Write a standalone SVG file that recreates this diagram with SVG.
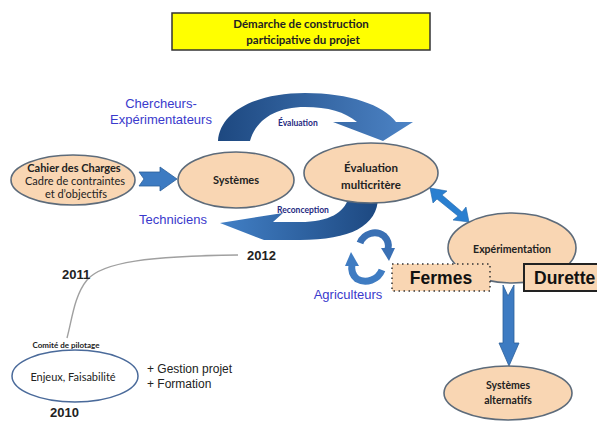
<svg xmlns="http://www.w3.org/2000/svg" width="597" height="436" viewBox="0 0 597 436">
<defs>
<linearGradient id="gTop" x1="0" y1="0" x2="1" y2="0">
<stop offset="0" stop-color="#1d4880"/><stop offset="1" stop-color="#4d84c6"/>
</linearGradient>
<linearGradient id="gBot" x1="1" y1="0" x2="0" y2="0">
<stop offset="0" stop-color="#1d4880"/><stop offset="1" stop-color="#4280c6"/>
</linearGradient>
</defs>
<style>
.node{fill:#f9d6b3;stroke:#5d6b7a;stroke-width:1.6}
.t{font-family:Lato,"Open Sans",sans-serif;fill:#222;text-anchor:middle}
.b{font-weight:bold}
.blue{font-family:"Liberation Sans",Arial,sans-serif;font-size:13px;fill:#3a3acc;text-anchor:middle}
.lbl{font-family:Lato,sans-serif;font-size:8.5px;font-weight:bold;fill:#1f2a80}
.yr{font-family:"Liberation Sans",Arial,sans-serif;font-size:13px;font-weight:bold;fill:#222}
.big{font-family:"Liberation Sans",Arial,sans-serif;font-size:17.5px;font-weight:bold;fill:#111}
.arr{fill:#3d7bc2;stroke:#2c5f9a;stroke-width:0.8}
</style>
<rect width="597" height="436" fill="#fff"/>

<g id="title">
<rect x="172" y="13" width="258" height="37" fill="#ffff00" stroke="#333" stroke-width="1.5"/>
<text class="t b" x="301" y="28" font-size="11.5">Démarche de construction</text>
<text class="t b" x="303" y="44" font-size="11.5">participative du projet</text>
</g>

<g id="connectors">
<path d="M218,141 C220,112 255,93 305,93 C350,93 383,105 396,122 L413,122 L383,141 L333,122 L357,122 C345,112 328,107 305,107 C275,107 256,120 250,141 Z" fill="url(#gTop)"/>
<path d="M378,197 C378,226 350,240 300,240 L264,240 L220,223 L283,213 L273,222 L300,222 C330,222 344,212 348,199 Z" fill="url(#gBot)"/>
<path class="arr" d="M139,172 L160,172 L160,167 L177,179 L160,191 L160,186 L139,186 L144,179 Z"/>
<path d="M430,188 L447,191 L442,195 L462,212 L466,207 L469,222 L453,220 L458,216 L437,199 L433,203 Z" fill="#2a7fd0" stroke="#1f66ad" stroke-width="0.6"/>
<path class="arr" d="M503,285 L508,296 L514,285 L514,343 L519,343 L509,366 L499,343 L503,343 Z"/>
<path d="M360,243 C364,233 376,230 384,236 C388,240 389,245 388,249" fill="none" stroke="#3a70b4" stroke-width="7"/>
<path d="M381,248 L395,248 L389,261 Z" fill="#3a70b4"/>
<path d="M382,270 C378,280 366,284 357,279 C352,275 351,270 352,264" fill="none" stroke="#3f7cc2" stroke-width="7"/>
<path d="M345,266 L359,266 L351,252 Z" fill="#3f7cc2"/>
<path d="M238,255 C150,256 102,262 87,280 C74,296 72,320 67,338" fill="none" stroke="#a0a0a0" stroke-width="1.4"/>
</g>

<g id="cahier">
<ellipse class="node" cx="73" cy="180" rx="62" ry="25"/>
<text class="t b" x="74" y="172" font-size="11">Cahier des Charges</text>
<text class="t" x="75" y="185" font-size="11">Cadre de contraintes</text>
<text class="t" x="76" y="198" font-size="11">et d’objectifs</text>
</g>

<g id="systemes">
<ellipse class="node" cx="236" cy="180" rx="58" ry="28"/>
<text class="t b" x="236" y="184" font-size="11">Systèmes</text>
</g>

<g id="evaluation">
<ellipse class="node" cx="371" cy="173" rx="67" ry="30"/>
<text class="t b" x="371" y="172" font-size="11.5">Évaluation</text>
<text class="t b" x="371" y="189" font-size="11.5">multicritère</text>
</g>

<g id="experimentation">
<ellipse class="node" cx="512" cy="248" rx="64" ry="35"/>
<text class="t b" x="512" y="253" font-size="10.5">Expérimentation</text>
</g>

<g id="fermes">
<rect x="392" y="264" width="98" height="27" fill="#f9d6b3" stroke="#333" stroke-width="1.5" stroke-dasharray="1.5,3.5"/>
<text class="big" x="441" y="284" text-anchor="middle">Fermes</text>
</g>

<g id="durette">
<rect x="524" y="264" width="80" height="27" fill="#f9d6b3" stroke="#222" stroke-width="2"/>
<text class="big" x="534" y="284">Durette</text>
</g>

<g id="alternatifs">
<ellipse class="node" cx="508" cy="393" rx="64" ry="27"/>
<text class="t b" x="508" y="389" font-size="10.5">Systèmes</text>
<text class="t b" x="508" y="404" font-size="10.5">alternatifs</text>
</g>

<g id="pilotage">
<ellipse cx="75" cy="376" rx="63" ry="26" fill="#fff" stroke="#4a6a9a" stroke-width="1.5"/>
<text class="t" x="73" y="381" font-size="11" fill="#333">Enjeux, Faisabilité</text>
<text class="t b" x="66" y="348" font-size="8">Comité de pilotage</text>
</g>

<g id="labels">
<text class="blue" x="161" y="108">Chercheurs-</text>
<text class="blue" x="161" y="124">Expérimentateurs</text>
<text class="blue" x="173" y="224">Techniciens</text>
<text class="blue" x="348" y="299">Agriculteurs</text>
<text class="lbl" x="278" y="126">Évaluation</text>
<text class="lbl" x="277" y="213">Reconception</text>
<text class="yr" x="247" y="260">2012</text>
<text class="yr" x="62" y="279">2011</text>
<text class="yr" x="50" y="417">2010</text>
<text font-family="Liberation Sans,Arial,sans-serif" font-size="12" fill="#222" x="147" y="373">+ Gestion projet</text>
<text font-family="Liberation Sans,Arial,sans-serif" font-size="12" fill="#222" x="147" y="388">+ Formation</text>
</g>
</svg>
